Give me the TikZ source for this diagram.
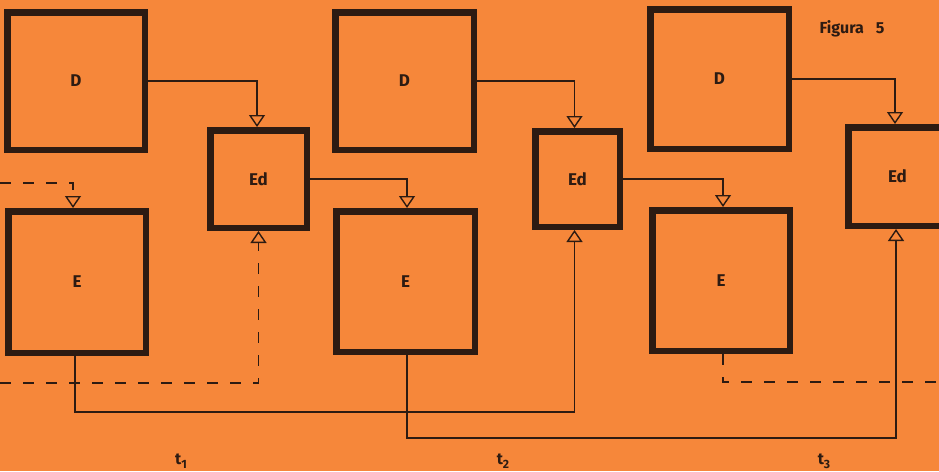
\documentclass[tikz,border=0pt]{standalone}
\usepackage{fontspec}
\setmainfont{Fira Sans}
\usetikzlibrary{arrows.meta}
\definecolor{paper}{RGB}{246,135,58}
\definecolor{ink}{RGB}{45,27,18}
\begin{document}
\begin{tikzpicture}[x=1pt,y=-1pt,
  block/.style={draw=ink, line width=6.5pt, inner sep=0pt, text=ink,
    font=\bfseries\fontsize{17}{19}\selectfont},
  conn/.style={draw=ink, line width=1.5pt,
    -{Triangle[open,length=12pt,width=16pt,line width=1.4pt]}},
  feed/.style={conn, dash pattern=on 11pt off 12pt},
  trail/.style={draw=ink, line width=1.5pt, dash pattern=on 11pt off 12pt},
  lbl/.style={text=ink, inner sep=0pt, font=\bfseries\fontsize{16}{18}\selectfont}]
% sheet
\fill[paper] (0,0) rectangle (939,471);
\useasboundingbox (0,0) rectangle (939,471);
\clip (0,0) rectangle (939,471);

% blocks of the three stages
\node[block, minimum width=137.5pt, minimum height=137.5pt] (D1) at (76,81) {D};
\node[block, minimum width=137.5pt, minimum height=141.5pt] (E1) at (77,282) {E};
\node[block, minimum width=96.5pt, minimum height=97.5pt] (Ed1) at (258.5,179) {Ed};

\node[block, minimum width=138.5pt, minimum height=137.5pt] (D2) at (404.5,81) {D};
\node[block, minimum width=138.5pt, minimum height=140.5pt] (E2) at (405.5,281.5) {E};
\node[block, minimum width=84.5pt, minimum height=95.5pt] (Ed2) at (577.5,179) {Ed};

\node[block, minimum width=138.5pt, minimum height=139.5pt] (D3) at (719.5,79) {D};
\node[block, minimum width=137.5pt, minimum height=140.5pt] (E3) at (721,280.5) {E};
\node[block, minimum width=98.5pt, minimum height=98.5pt] (Ed3) at (897.5,176.5) {Ed};

% free ends at the sheet border
\coordinate (inE) at (0,183);
\coordinate (inEd) at (0,383);
\coordinate (outE) at (939,382);

% D -> Ed
\draw[conn] (D1.east) -| ([xshift=-1.5pt]Ed1.north);
\draw[conn] (D2.east) -| ([xshift=-3pt]Ed2.north);
\draw[conn] (D3.east) -| ([xshift=-2.5pt]Ed3.north);

% Ed -> next E
\draw[conn] (Ed1.east) -| ([xshift=1.5pt]E2.north);
\draw[conn] (Ed2.east) -| ([xshift=2pt]E3.north);

% E -> Ed of the next stage
\draw[conn] ([xshift=-2pt]E1.south) -- ++(0,56) -| ([xshift=-3pt]Ed2.south);
\draw[conn] ([xshift=1.5pt]E2.south) -- ++(0,83) -| ([xshift=-1.5pt]Ed3.south);

% dashed links from and to outside stages
\draw[feed] (inE) -| ([xshift=-4pt]E1.north);
\draw[feed] (inEd) -| (Ed1.south);
\draw[trail] ([xshift=2pt]E3.south) |- (outE);

% captions
\node[lbl] (fig) at (852,29) {Figura\hspace{12pt}5};
\node[lbl] (t1) at (181,461) {t\raisebox{-0.45ex}{\fontsize{12}{12}\selectfont 1}};
\node[lbl] (t2) at (503,461) {t\raisebox{-0.45ex}{\fontsize{12}{12}\selectfont 2}};
\node[lbl] (t3) at (824,461) {t\raisebox{-0.45ex}{\fontsize{12}{12}\selectfont 3}};
\end{tikzpicture}
\end{document}
